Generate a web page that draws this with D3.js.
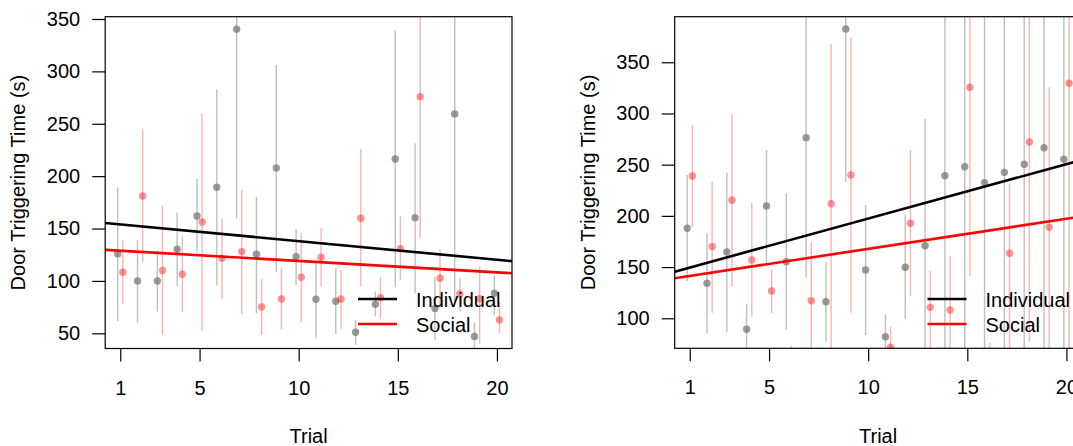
<!DOCTYPE html>
<html>
<head>
<meta charset="utf-8">
<script src="https://cdn.jsdelivr.net/npm/d3@7"></script>
<style>
  html, body { margin: 0; padding: 0; background: #fff; }
  svg { display: block; }
</style>
</head>
<body>
<svg id="chart" width="1073" height="446"></svg>
<script>
// ---------------- data ----------------
const trials = [1,2,3,4,5,6,7,8,9,10,11,12,13,14,15,16,17,18,19,20];
const xLimits = [0.24, 20.76];
const xTicks = [1, 5, 10, 15, 20];
const leftYLimits = [35.5, 352.2];
const rightYLimits = [70.7, 394.5];
const leftYTicks = [50, 100, 150, 200, 250, 300, 350];
const rightYTicks = [100, 150, 200, 250, 300, 350];
const seriesNames = ["Individual", "Social"];
const xTitle = "Trial";
const yTitle = "Door Triggering Time (s)";

// left panel
const leftIndMean = [125.8,100,100,130.2,162,189.4,340.2,125.5,207.8,123.2,82.5,80.6,51,77.8,216.4,160.4,73.6,259.4,47,88.3];
const leftIndLo   = [61.8,60.2,70.7,95.2,127,95.5,159.8,69.2,108.6,96.2,45.3,49.4,38.9,66,94,88.3,43.7,80,30,67.5];
const leftIndHi   = [189.4,139.1,128.9,165.2,197.3,282.9,420,180.4,306.1,149.3,119.4,112.1,62.8,89.8,339.5,231.4,104.1,400,60.2,105.7];
const leftSocMean = [108.3,181.1,109.9,106.4,156.3,121.7,128,75.2,82.8,103.5,122.6,82.8,159.8,84.1,130.8,275.9,102.6,87.6,83,62.8];
const leftSocLo   = [78.1,117.5,48.5,70.1,52.3,82.8,68.5,48.5,53.9,60.6,94.6,54.2,94.6,63.5,101,140.7,74,70.7,40,50.3];
const leftSocHi   = [139.1,245,171.6,142.3,260,159.8,186.8,101.6,112.1,145.4,150.6,110.5,225.7,104.1,161.4,420,130.2,102.6,113.7,80];
const leftIndFit  = [155.7, -1.774];   // intercept, slope
const leftSocFit  = [129.9, -1.087];

// right panel
const rightIndMean = [187.9,134.2,164.7,89.3,209.7,155.3,276.4,116.2,382.5,147.2,82,149.8,170.9,239.3,248,232.4,242.5,250.4,266.6,255.3];
const rightIndLo   = [136.4,85.4,86.9,60,153,88.6,139.6,77.2,233.4,83.7,55,99,55,50,50,50,50,50,50,50];
const rightIndHi   = [240,183,242.2,113.7,264.3,222,450,154.7,450,210.6,104.2,200.9,294.6,450,450,450,450,450,450,450];
const rightSocMean = [239,170,215.2,157,126.7,55,117.2,211.9,240,60,71.7,192.8,110.7,108.1,325.6,58,163.5,272.2,188.9,329.5];
const rightSocLo   = [189.5,105.5,130.9,101.6,104.9,40,50,50,105.5,45,50,121.8,50,50,141.3,40,50,77.2,50,50];
const rightSocHi   = [288.8,233.4,299.2,212.9,147.2,73,174.8,367.6,374,68,91.8,264.4,146.2,160.8,450,76,231.8,450,325.6,450];
const rightIndFit  = [144.2, 5.316];
const rightSocFit  = [138.4, 2.94];

// ---------------- layout / style ----------------
const FONT = "'Liberation Sans', Arial, Helvetica, sans-serif";
const groupOffset = [-0.13, 0.13];
const styles = [
  { point: "rgba(120,120,120,0.75)", bar: "rgba(128,128,128,0.5)", line: "#000000" },
  { point: "rgba(255,0,0,0.42)",     bar: "rgba(255,0,0,0.3)",     line: "#ff0000" }
];

const panels = [
  { id: "L", box: { x0: 105.2, x1: 512, y0: 16.7, y1: 348.5 }, yLim: leftYLimits, yTicks: leftYTicks,
    groups: [
      { mean: leftIndMean, lo: leftIndLo, hi: leftIndHi, fit: leftIndFit },
      { mean: leftSocMean, lo: leftSocLo, hi: leftSocHi, fit: leftSocFit }
    ] },
  { id: "R", box: { x0: 674.7, x1: 1081.5, y0: 16.7, y1: 348.3 }, yLim: rightYLimits, yTicks: rightYTicks,
    groups: [
      { mean: rightIndMean, lo: rightIndLo, hi: rightIndHi, fit: rightIndFit },
      { mean: rightSocMean, lo: rightSocLo, hi: rightSocHi, fit: rightSocFit }
    ] }
];

const svg = d3.select("#chart");
svg.append("rect").attr("width", 1073).attr("height", 446).attr("fill", "#fff");

panels.forEach(p => {
  const b = p.box;
  const x = d3.scaleLinear().domain(xLimits).range([b.x0, b.x1]);
  const y = d3.scaleLinear().domain(p.yLim).range([b.y1, b.y0]);

  const clipId = "clip" + p.id;
  svg.append("clipPath").attr("id", clipId)
    .append("rect").attr("x", b.x0).attr("y", b.y0)
    .attr("width", b.x1 - b.x0).attr("height", b.y1 - b.y0);

  const g = svg.append("g").attr("clip-path", `url(#${clipId})`);

  // error bars
  p.groups.forEach((grp, gi) => {
    g.append("g").selectAll("line")
      .data(trials.map((t, i) => ({ t, lo: grp.lo[i], hi: grp.hi[i] })))
      .join("line")
      .attr("x1", d => x(d.t + groupOffset[gi])).attr("x2", d => x(d.t + groupOffset[gi]))
      .attr("y1", d => y(d.lo)).attr("y2", d => y(d.hi))
      .attr("stroke", styles[gi].bar).attr("stroke-width", 1.4);
  });
  // points
  p.groups.forEach((grp, gi) => {
    g.append("g").selectAll("circle")
      .data(trials.map((t, i) => ({ t, v: grp.mean[i] })))
      .join("circle")
      .attr("cx", d => x(d.t + groupOffset[gi])).attr("cy", d => y(d.v))
      .attr("r", 3.7).attr("fill", styles[gi].point);
  });
  // fitted lines
  p.groups.forEach((grp, gi) => {
    const [a, s] = grp.fit;
    g.append("line")
      .attr("x1", x(xLimits[0])).attr("y1", y(a + s * xLimits[0]))
      .attr("x2", x(xLimits[1])).attr("y2", y(a + s * xLimits[1]))
      .attr("stroke", styles[gi].line).attr("stroke-width", 2.6);
  });

  // box
  svg.append("rect").attr("x", b.x0).attr("y", b.y0)
    .attr("width", b.x1 - b.x0).attr("height", b.y1 - b.y0)
    .attr("fill", "none").attr("stroke", "#000").attr("stroke-width", 1.2);

  // axes
  const yAxis = svg.append("g").attr("transform", `translate(${b.x0},0)`)
    .call(d3.axisLeft(y).tickValues(p.yTicks).tickSize(13).tickPadding(12).tickFormat(d3.format("d")));
  const xAxis = svg.append("g").attr("transform", `translate(0,${b.y1})`)
    .call(d3.axisBottom(x).tickValues(xTicks).tickSize(13).tickPadding(19).tickFormat(d3.format("d")));
  [yAxis, xAxis].forEach(ax => {
    ax.select(".domain").remove();
    ax.selectAll(".tick line").attr("stroke", "#000").attr("stroke-width", 1.2);
    ax.selectAll(".tick text").attr("fill", "#000")
      .style("font-family", FONT).style("font-size", "20px");
  });

  // axis titles
  svg.append("text")
    .attr("x", (b.x0 + b.x1) / 2).attr("y", 443.3)
    .attr("text-anchor", "middle")
    .style("font-family", FONT).style("font-size", "20px").attr("fill", "#000")
    .text(xTitle);
  svg.append("text")
    .attr("transform", `translate(${b.x0 - 80.2},${(b.y0 + b.y1) / 2}) rotate(-90)`)
    .attr("text-anchor", "middle")
    .style("font-family", FONT).style("font-size", "20px").attr("fill", "#000")
    .text(yTitle);

  // legend
  const leg = svg.append("g");
  seriesNames.forEach((name, gi) => {
    const ly = 299 + gi * 25;
    leg.append("line")
      .attr("x1", b.x1 - 154).attr("x2", b.x1 - 115)
      .attr("y1", ly).attr("y2", ly)
      .attr("stroke", styles[gi].line).attr("stroke-width", 2.6);
    leg.append("text")
      .attr("x", b.x1 - 96).attr("y", ly + 8)
      .style("font-family", FONT).style("font-size", "20px").attr("fill", "#000")
      .text(name);
  });
});
</script>
</body>
</html>
